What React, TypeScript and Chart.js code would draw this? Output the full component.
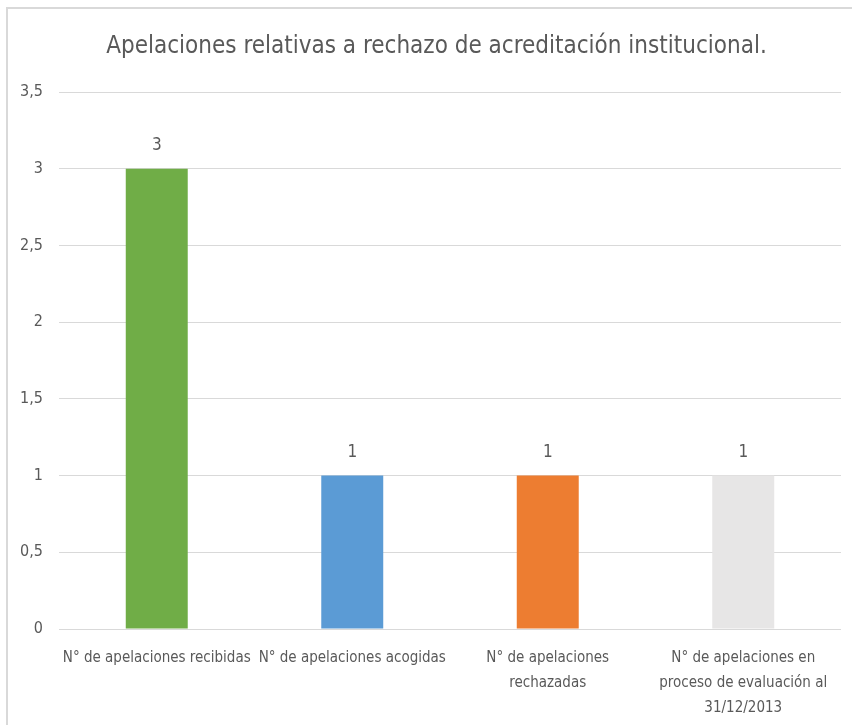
import React, { useEffect, useRef } from "react";
import { Chart, registerables } from "chart.js";

Chart.register(...registerables);

const title = "Apelaciones relativas a rechazo de acreditación institucional.";
const categories: string[][] = [
  ["N° de apelaciones recibidas"],
  ["N° de apelaciones acogidas"],
  ["N° de apelaciones", "rechazadas"],
  ["N° de apelaciones en", "proceso de evaluación al", "31/12/2013"],
];
const values = [3, 1, 1, 1];
const barColors = ["#70AD47", "#5B9BD5", "#ED7D31", "#E7E6E6"];
const yMin = 0;
const yMax = 3.5;
const yStep = 0.5;

const FONT = "'Liberation Sans Narrow', 'DejaVu Sans Condensed', 'Arial Narrow', sans-serif";
const TEXT = "#595959";

const valueLabels = {
  id: "valueLabels",
  afterDatasetsDraw(chart: any) {
    const ctx = chart.ctx;
    const meta = chart.getDatasetMeta(0);
    ctx.save();
    ctx.font = `17px ${FONT}`;
    ctx.fillStyle = TEXT;
    ctx.textAlign = "center";
    ctx.textBaseline = "middle";
    meta.data.forEach((bar: any, i: number) => {
      ctx.fillText(String(chart.data.datasets[0].data[i]), bar.x, bar.y - 23);
    });
    ctx.restore();
  },
};

const centeredTitle = {
  id: "centeredTitle",
  afterDraw(chart: any) {
    const ctx = chart.ctx;
    ctx.save();
    ctx.font = `24px ${FONT}`;
    ctx.fillStyle = TEXT;
    ctx.textAlign = "center";
    ctx.textBaseline = "middle";
    ctx.fillText(title, (chart.chartArea.left + chart.width) / 2 - 19, 47);
    ctx.restore();
  },
};

export default function App() {
  const ref = useRef<HTMLCanvasElement>(null);
  useEffect(() => {
    if (!ref.current) return;
    const chart = new Chart(ref.current, {
      type: "bar",
      data: {
        labels: categories,
        datasets: [
          {
            data: values,
            backgroundColor: barColors,
            categoryPercentage: 1,
            barPercentage: 0.317,
          },
        ],
      },
      plugins: [valueLabels, centeredTitle],
      options: {
        animation: false,
        responsive: false,
        maintainAspectRatio: false,
        layout: { padding: { left: 18, right: 11, top: 92, bottom: 0 } },
        plugins: {
          legend: { display: false },
          tooltip: { enabled: false },
          title: { display: false },
        },
        scales: {
          x: {
            grid: { display: false, drawTicks: false },
            border: { display: false },
            ticks: {
              color: TEXT,
              font: { family: FONT, size: 15, lineHeight: 1.667 },
              autoSkip: false,
              maxRotation: 0,
              minRotation: 0,
              padding: 16.5,
            },
            afterFit(scale: any) {
              scale.height = 96;
            },
          },
          y: {
            min: yMin,
            max: yMax,
            grid: { color: "#D9D9D9", drawTicks: false, lineWidth: 1 },
            border: { display: false },
            ticks: {
              stepSize: yStep,
              color: TEXT,
              font: { family: FONT, size: 16 },
              padding: 16,
              callback: (v: any) => String(v).replace(".", ","),
            },
            afterFit(scale: any) {
              scale.width = 41;
            },
          },
        },
      },
    });
    return () => chart.destroy();
  }, []);
  return (
    <div style={{ position: "absolute", left: 0, top: 0, width: 852, height: 725, background: "#fff" }}>
      <div
        style={{
          position: "absolute",
          left: 6,
          top: 7,
          width: 846,
          height: 718,
          borderTop: "2px solid #D9D9D9",
          borderLeft: "2px solid #D9D9D9",
          boxSizing: "border-box",
        }}
      />
      <canvas ref={ref} width={852} height={725} style={{ position: "absolute", left: 0, top: 0 }} />
    </div>
  );
}
